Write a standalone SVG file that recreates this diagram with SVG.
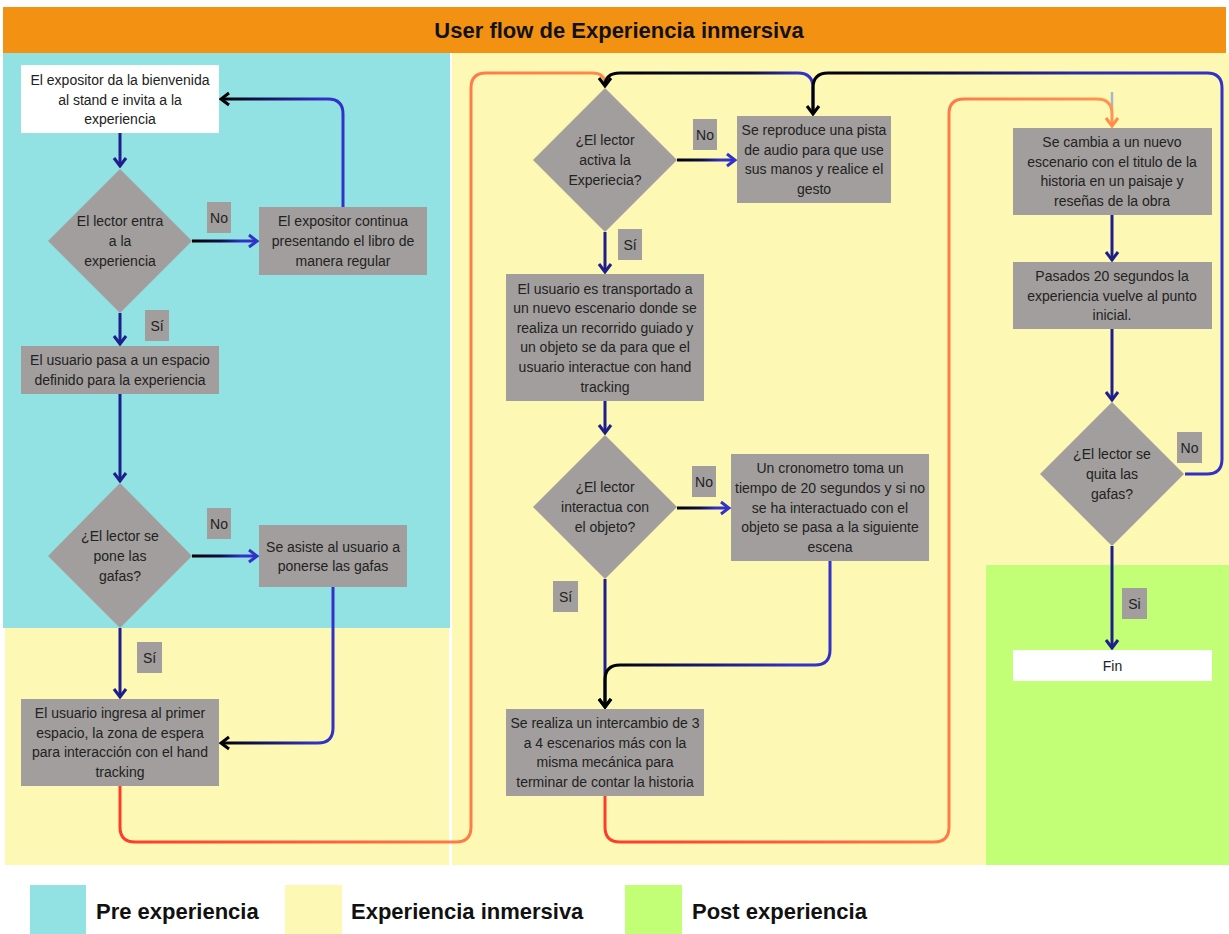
<svg xmlns="http://www.w3.org/2000/svg" width="1229" height="934" viewBox="0 0 1229 934">
  <style>
    .node { fill: #A19E9D; }
    .white { fill: #FFFFFF; }
    .txt { font-family: "Liberation Sans", Arial, sans-serif; font-size: 14px; fill: #222222; text-anchor: middle; }
    .lbl { fill: #A19E9D; }
    .conn { fill: none; stroke-width: 3; stroke-linejoin: round; stroke-linecap: butt; }
    .navy { stroke: #1E1E8C; }
    .title { font-family: "Liberation Sans", Arial, sans-serif; font-size: 22px; font-weight: bold; fill: #111111; text-anchor: middle; }
    .legend { font-family: "Liberation Sans", Arial, sans-serif; font-size: 22px; font-weight: bold; fill: #111111; }
  </style>
  <defs>
    <marker id="arrowBlue" viewBox="-10 -8 12 16" refX="0" refY="0" markerWidth="12" markerHeight="16" markerUnits="userSpaceOnUse" orient="auto">
      <path d="M-8,-6 L0,0 L-8,6" fill="none" stroke="#3232C8" stroke-width="3"/>
    </marker>
    <marker id="arrowBlack" viewBox="-10 -8 12 16" refX="0" refY="0" markerWidth="12" markerHeight="16" markerUnits="userSpaceOnUse" orient="auto">
      <path d="M-8,-6 L0,0 L-8,6" fill="none" stroke="#000000" stroke-width="3"/>
    </marker>
    <marker id="arrowNavy" viewBox="-10 -8 12 16" refX="0" refY="0" markerWidth="12" markerHeight="16" markerUnits="userSpaceOnUse" orient="auto">
      <path d="M-8,-6 L0,0 L-8,6" fill="none" stroke="#1E1E8C" stroke-width="3"/>
    </marker>
    <marker id="arrowOrange" viewBox="-10 -8 12 16" refX="0" refY="0" markerWidth="12" markerHeight="16" markerUnits="userSpaceOnUse" orient="auto">
      <path d="M-8,-6 L0,0 L-8,6" fill="none" stroke="#FF8C4A" stroke-width="3"/>
    </marker>
    <!-- horizontal "No" branches: dark at the decision, blue at the arrow -->
    <linearGradient id="gNo1" gradientUnits="userSpaceOnUse" x1="192" y1="0" x2="258" y2="0">
      <stop offset="0" stop-color="#000000"/><stop offset="0.45" stop-color="#10104a"/><stop offset="0.75" stop-color="#3232C8"/><stop offset="1" stop-color="#3232C8"/>
    </linearGradient>
    <linearGradient id="gNo3" gradientUnits="userSpaceOnUse" x1="677" y1="0" x2="735" y2="0">
      <stop offset="0" stop-color="#000000"/><stop offset="0.45" stop-color="#10104a"/><stop offset="0.75" stop-color="#3232C8"/><stop offset="1" stop-color="#3232C8"/>
    </linearGradient>
    <linearGradient id="gNo4" gradientUnits="userSpaceOnUse" x1="677" y1="0" x2="729" y2="0">
      <stop offset="0" stop-color="#000000"/><stop offset="0.45" stop-color="#10104a"/><stop offset="0.75" stop-color="#3232C8"/><stop offset="1" stop-color="#3232C8"/>
    </linearGradient>
    <!-- return loops: dark at the arrow end, blue at the source -->
    <linearGradient id="gBack" x1="0" y1="0" x2="1" y2="0">
      <stop offset="0" stop-color="#000000"/><stop offset="0.35" stop-color="#14145a"/><stop offset="0.85" stop-color="#3232C8"/><stop offset="1" stop-color="#3232C8"/>
    </linearGradient>
    <linearGradient id="gBackA" x1="0" y1="0" x2="1" y2="0">
      <stop offset="0" stop-color="#000000"/><stop offset="0.7" stop-color="#101040"/><stop offset="0.95" stop-color="#3232C8"/><stop offset="1" stop-color="#3232C8"/>
    </linearGradient>
    <linearGradient id="gBackB" x1="0" y1="0" x2="1" y2="0">
      <stop offset="0" stop-color="#000000"/><stop offset="0.3" stop-color="#0e0e3c"/><stop offset="0.65" stop-color="#2a2aa8"/><stop offset="1" stop-color="#3232C8"/>
    </linearGradient>
    <!-- scene transitions: red at the source, orange at the target -->
    <linearGradient id="gOrangeC" x1="0" y1="0" x2="1" y2="0">
      <stop offset="0" stop-color="#FF3B2E"/><stop offset="0.7" stop-color="#FF7A48"/><stop offset="1" stop-color="#FF8C4A"/>
    </linearGradient>
    <linearGradient id="gOrangeD" x1="0" y1="0" x2="1" y2="0">
      <stop offset="0" stop-color="#FF3B2E"/><stop offset="0.68" stop-color="#FF7A48"/><stop offset="1" stop-color="#FF9550"/>
    </linearGradient>
  </defs>

  <!-- page and swimlane backgrounds -->
  <rect x="0" y="0" width="1229" height="934" fill="#FFFFFF"/>
  <g id="lanes">
    <rect x="3" y="7" width="1223" height="46" fill="#F39112"/>
    <rect x="3" y="53" width="447" height="575" fill="#92E2E3"/>
    <rect x="5" y="628" width="444" height="237" fill="#FDF8B4"/>
    <rect x="452" y="53" width="777" height="812" fill="#FDF8B4"/>
    <rect x="986" y="565" width="243" height="300" fill="#C2FF76"/>
    <text class="title" x="619" y="38">User flow de Experiencia inmersiva</text>
  </g>

  <!-- legend -->
  <g id="legend">
    <rect x="30" y="885" width="56" height="49" fill="#92E2E3"/>
    <text class="legend" x="96" y="919">Pre experiencia</text>
    <rect x="285" y="885" width="57" height="49" fill="#FDF8B4"/>
    <text class="legend" x="351" y="919">Experiencia inmersiva</text>
    <rect x="625" y="885" width="57" height="49" fill="#C2FF76"/>
    <text class="legend" x="692" y="919">Post experiencia</text>
  </g>

  <!-- connectors and branch labels -->
  <g id="connectors">
    <!-- scene transitions (orange) -->
    <path d="M1112,92 V112" stroke="#A8B6C6" stroke-width="2.5" fill="none"/>
    <path class="conn" stroke="url(#gOrangeC)" d="M120,786 V827 Q120,842 135,842 H456 Q471,842 471,827 V88 Q471,73 486,73 H592 Q605,73 605,84"/>
    <path class="conn" stroke="url(#gOrangeD)" marker-end="url(#arrowOrange)" d="M605,796 V827 Q605,842 620,842 H934 Q949,842 949,827 V114 Q949,99 964,99 H1097 Q1112,99 1112,114 V126"/>

    <!-- pre experience -->
    <path class="conn navy" marker-end="url(#arrowNavy)" d="M120,133 V166"/>
    <path class="conn" stroke="url(#gNo1)" marker-end="url(#arrowBlue)" d="M192,241 H257"/>
    <path class="conn" stroke="url(#gBack)" marker-end="url(#arrowBlack)" d="M343,207 V114 Q343,99 328,99 H221"/>
    <path class="conn navy" marker-end="url(#arrowNavy)" d="M120,313 V344"/>
    <path class="conn navy" marker-end="url(#arrowNavy)" d="M120,394 V481"/>
    <path class="conn" stroke="url(#gNo1)" transform="translate(0,315)" marker-end="url(#arrowBlue)" d="M192,241 H257"/>
    <path class="conn" stroke="url(#gBack)" marker-end="url(#arrowBlack)" d="M333,587 V728 Q333,743 318,743 H221"/>
    <path class="conn navy" marker-end="url(#arrowNavy)" d="M120,628 V697"/>

    <!-- immersive experience -->
    <path class="conn" stroke="url(#gBackA)" marker-end="url(#arrowBlack)" d="M813,114 V88 Q813,73 798,73 H620 Q605,73 605,86"/>
    <path class="conn" stroke="url(#gBackB)" marker-end="url(#arrowBlack)" d="M1185,474 H1207 Q1222,474 1222,459 V88 Q1222,73 1207,73 H828 Q813,73 813,88 V114"/>
    <path class="conn" stroke="url(#gNo3)" marker-end="url(#arrowBlue)" d="M677,160 H735"/>
    <path class="conn navy" marker-end="url(#arrowNavy)" d="M605,232 V272"/>
    <path class="conn navy" marker-end="url(#arrowNavy)" d="M605,401 V433"/>
    <path class="conn" stroke="url(#gNo4)" marker-end="url(#arrowBlue)" d="M677,508 H729"/>
    <path class="conn navy" marker-end="url(#arrowBlack)" d="M605,579 V707"/>
    <path class="conn" stroke="url(#gBack)" marker-end="url(#arrowBlack)" d="M830,561 V650 Q830,665 815,665 H620 Q605,665 605,680 V707"/>
    <path class="conn navy" marker-end="url(#arrowNavy)" d="M1112,215 V260"/>
    <path class="conn navy" marker-end="url(#arrowNavy)" d="M1112,329 V400"/>

    <!-- post experience -->
    <path class="conn navy" marker-end="url(#arrowNavy)" d="M1112,546 V648"/>

    <!-- branch labels -->
    <rect class="lbl" x="207" y="202" width="24" height="31"/><text class="txt" x="219" y="222.5">No</text>
    <rect class="lbl" x="145" y="310" width="24" height="31"/><text class="txt" x="157" y="330.5">Sí</text>
    <rect class="lbl" x="207" y="508" width="24" height="31"/><text class="txt" x="219" y="528.5">No</text>
    <rect class="lbl" x="137" y="642" width="25" height="31"/><text class="txt" x="149.5" y="662.5">Sí</text>
    <rect class="lbl" x="693" y="119" width="24" height="31"/><text class="txt" x="705" y="139.5">No</text>
    <rect class="lbl" x="618" y="229" width="24" height="31"/><text class="txt" x="630" y="249.5">Sí</text>
    <rect class="lbl" x="692" y="466" width="24" height="31"/><text class="txt" x="704" y="486.5">No</text>
    <rect class="lbl" x="553" y="581" width="25" height="31"/><text class="txt" x="565.5" y="601.5">Sí</text>
    <rect class="lbl" x="1177" y="432" width="25" height="31"/><text class="txt" x="1189.5" y="452.5">No</text>
    <rect class="lbl" x="1122" y="588" width="25" height="31"/><text class="txt" x="1134.5" y="608.5">Si</text>
  </g>

  <!-- nodes -->
  <g id="n_start">
    <rect class="white" x="21" y="65" width="198" height="68"/>
    <text class="txt"><tspan x="120" y="85">El expositor da la bienvenida</tspan><tspan x="120" y="104.6">al stand e invita a la</tspan><tspan x="120" y="124.2">experiencia</tspan></text>
  </g>
  <g id="d_entra">
    <polygon class="node" points="120,169 192,241 120,313 48,241"/>
    <text class="txt"><tspan x="120" y="226.4">El lector entra</tspan><tspan x="120" y="246">a la</tspan><tspan x="120" y="265.6">experiencia</tspan></text>
  </g>
  <g id="n_continua">
    <rect class="node" x="259" y="207" width="168" height="68"/>
    <text class="txt"><tspan x="343" y="226.4">El expositor continua</tspan><tspan x="343" y="246">presentando el libro de</tspan><tspan x="343" y="265.6">manera regular</tspan></text>
  </g>
  <g id="n_pasa">
    <rect class="node" x="21" y="346" width="198" height="48"/>
    <text class="txt"><tspan x="120" y="365.2">El usuario pasa a un espacio</tspan><tspan x="120" y="384.8">definido para la experiencia</tspan></text>
  </g>
  <g id="d_pone">
    <polygon class="node" points="120,483 192,556 120,628 48,556"/>
    <text class="txt"><tspan x="120" y="541.4">¿El lector se</tspan><tspan x="120" y="561">pone las</tspan><tspan x="120" y="580.6">gafas?</tspan></text>
  </g>
  <g id="n_asiste">
    <rect class="node" x="259" y="525" width="148" height="62"/>
    <text class="txt"><tspan x="333" y="551.7">Se asiste al usuario a</tspan><tspan x="333" y="571.3">ponerse las gafas</tspan></text>
  </g>
  <g id="n_ingresa">
    <rect class="node" x="21" y="699" width="198" height="87"/>
    <text class="txt"><tspan x="120" y="718.1">El usuario ingresa al primer</tspan><tspan x="120" y="737.7">espacio, la zona de espera</tspan><tspan x="120" y="757.3">para interacción con el hand</tspan><tspan x="120" y="776.9">tracking</tspan></text>
  </g>
  <g id="d_activa">
    <polygon class="node" points="605,88 677,160 605,232 533,160"/>
    <text class="txt"><tspan x="605" y="145.4">¿El lector</tspan><tspan x="605" y="165">activa la</tspan><tspan x="605" y="184.6">Experiecia?</tspan></text>
  </g>
  <g id="n_reproduce">
    <rect class="node" x="737" y="116" width="154" height="87"/>
    <text class="txt"><tspan x="814" y="135.1">Se reproduce una pista</tspan><tspan x="814" y="154.7">de audio para que use</tspan><tspan x="814" y="174.3">sus manos y realice el</tspan><tspan x="814" y="193.9">gesto</tspan></text>
  </g>
  <g id="n_transportado">
    <rect class="node" x="506" y="274" width="198" height="127"/>
    <text class="txt"><tspan x="605" y="293.5">El usuario es transportado a</tspan><tspan x="605" y="313.1">un nuevo escenario donde se</tspan><tspan x="605" y="332.7">realiza un recorrido guiado y</tspan><tspan x="605" y="352.3">un objeto se da para que el</tspan><tspan x="605" y="371.9">usuario interactue con hand</tspan><tspan x="605" y="391.5">tracking</tspan></text>
  </g>
  <g id="d_interactua">
    <polygon class="node" points="605,435 677,507 605,579 533,507"/>
    <text class="txt"><tspan x="605" y="492.4">¿El lector</tspan><tspan x="605" y="512">interactua con</tspan><tspan x="605" y="531.6">el objeto?</tspan></text>
  </g>
  <g id="n_cronometro">
    <rect class="node" x="731" y="454" width="198" height="107"/>
    <text class="txt"><tspan x="830" y="473.3">Un cronometro toma un</tspan><tspan x="830" y="492.9">tiempo de 20 segundos y si no</tspan><tspan x="830" y="512.5">se ha interactuado con el</tspan><tspan x="830" y="532.1">objeto se pasa a la siguiente</tspan><tspan x="830" y="551.7">escena</tspan></text>
  </g>
  <g id="n_intercambio">
    <rect class="node" x="506" y="709" width="198" height="87"/>
    <text class="txt"><tspan x="605" y="728.1">Se realiza un intercambio de 3</tspan><tspan x="605" y="747.7">a 4 escenarios más con la</tspan><tspan x="605" y="767.3">misma mecánica para</tspan><tspan x="605" y="786.9">terminar de contar la historia</tspan></text>
  </g>
  <g id="n_cambia">
    <rect class="node" x="1013" y="128" width="199" height="87"/>
    <text class="txt"><tspan x="1112" y="147.1">Se cambia a un nuevo</tspan><tspan x="1112" y="166.7">escenario con el titulo de la</tspan><tspan x="1112" y="186.3">historia en un paisaje y</tspan><tspan x="1112" y="205.9">reseñas de la obra</tspan></text>
  </g>
  <g id="n_pasados">
    <rect class="node" x="1013" y="262" width="199" height="67"/>
    <text class="txt"><tspan x="1112" y="280.9">Pasados 20 segundos la</tspan><tspan x="1112" y="300.5">experiencia vuelve al punto</tspan><tspan x="1112" y="320.1">inicial.</tspan></text>
  </g>
  <g id="d_quita">
    <polygon class="node" points="1112,402 1184,474 1112,546 1040,474"/>
    <text class="txt"><tspan x="1112" y="459.4">¿El lector se</tspan><tspan x="1112" y="479">quita las</tspan><tspan x="1112" y="498.6">gafas?</tspan></text>
  </g>
  <g id="n_fin">
    <rect class="white" x="1013" y="650" width="199" height="31"/>
    <text class="txt" x="1112.5" y="670.5">Fin</text>
  </g>
</svg>
